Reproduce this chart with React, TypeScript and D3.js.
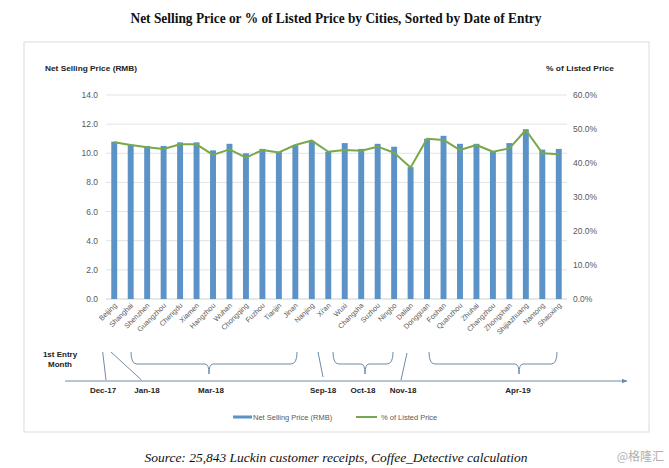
import React from "react";
import * as d3 from "d3";

const cities = ["Beijing","Shanghai","Shenzhen","Guangzhou","Chengdu","Xiamen","Hangzhou","Wuhan","Chongqing","Fuzhou","Tianjin","Jinan","Nanjing","Xi'an","Wuxi","Changsha","Suzhou","Ningbo","Dalian","Dongguan","Foshan","Quanzhou","Zhuhai","Changzhou","Zhongshan","Shijiazhuang","Nantong","Shaoxing"];
const netPrice = [10.8,10.6,10.5,10.5,10.75,10.75,10.2,10.65,10.0,10.3,10.1,10.55,10.85,10.1,10.7,10.3,10.65,10.45,9.05,11.0,11.2,10.65,10.65,10.1,10.7,11.65,10.25,10.3];
const pctListed = [0.461,0.453,0.446,0.441,0.455,0.455,0.424,0.44,0.416,0.438,0.431,0.453,0.466,0.433,0.438,0.436,0.448,0.43,0.387,0.471,0.468,0.438,0.453,0.433,0.443,0.497,0.429,0.426];
const leftTicks = [0,2,4,6,8,10,12,14];
const rightTicks = [0,0.1,0.2,0.3,0.4,0.5,0.6];

const entryLabels = ["Dec-17","Jan-18","Mar-18","Sep-18","Oct-18","Nov-18","Apr-19"];

const BAR = "#5b93c6";
const LINE = "#78a84c";
const TL = "#6f8ba6";

export default function App() {
  const W = 669, H = 468;
  const x = d3.scaleBand<string>().domain(cities).range([106, 567]).padding(0);
  const y = d3.scaleLinear().domain([0, 14]).range([299, 95]);
  const yr = d3.scaleLinear().domain([0, 0.6]).range([299, 95]);
  const bw = x.bandwidth() * 0.36;
  const cx = (c: string) => (x(c) as number) + x.bandwidth() / 2;
  const line = d3.line<number>().x((_, i) => cx(cities[i])).y((d) => yr(d));
  const fmtL = d3.format(".1f");
  const fmtR = d3.format(".1%");

  const bracket = (x1: number, x2: number, xm: number) => {
    const top = 352, bot = 364, tip = 374;
    return `M${x1},${top} Q${x1},${bot} ${x1 + 6},${bot} L${xm - 4},${bot} Q${xm},${bot} ${xm},${tip} Q${xm},${bot} ${xm + 4},${bot} L${x2 - 6},${bot} Q${x2},${bot} ${x2},${top}`;
  };

  return (
    <svg width={W} height={H} style={{ position: "absolute", left: 0, top: 0, background: "#fff" }} fontFamily="'Liberation Sans', Arial, sans-serif">
      <rect x={0} y={0} width={W} height={H} fill="#fff" />
      <text x={336} y={23} textAnchor="middle" fontFamily="'Liberation Serif', 'Times New Roman', serif" fontWeight="bold" fontSize={14} textLength={411} lengthAdjust="spacingAndGlyphs" fill="#111">
        Net Selling Price or % of Listed Price by Cities, Sorted by Date of Entry
      </text>
      <rect x={24} y={42} width={625} height={390} fill="none" stroke="#dcdcdc" strokeWidth={1} />

      <text x={45} y={71} fontSize={8} fontWeight="bold" fill="#222" textLength={92} lengthAdjust="spacingAndGlyphs">Net Selling Price (RMB)</text>
      <text x={546} y={71} fontSize={8} fontWeight="bold" fill="#222" textLength={68} lengthAdjust="spacingAndGlyphs">% of Listed Price</text>

      {leftTicks.map((t) => (
        <g key={t}>
          <line x1={106} x2={567} y1={y(t)} y2={y(t)} stroke={t === 0 ? "#cfcfcf" : "#e3e3e3"} strokeWidth={1} />
          <text x={98} y={y(t) + 3} textAnchor="end" fontSize={8.5} fill="#595959">{fmtL(t)}</text>
        </g>
      ))}
      {rightTicks.map((t) => (
        <text key={t} x={573} y={yr(t) + 3} fontSize={8.5} fill="#595959">{fmtR(t)}</text>
      ))}

      {cities.map((c, i) => (
        <rect key={c} x={cx(c) - bw / 2} y={y(netPrice[i])} width={bw} height={y(0) - y(netPrice[i])} fill={BAR} />
      ))}
      <path d={line(pctListed) || ""} fill="none" stroke={LINE} strokeWidth={2} strokeLinejoin="round" />

      {cities.map((c) => (
        <text key={c} transform={`translate(${cx(c) + 3},${306}) rotate(-45)`} textAnchor="end" fontSize={7.2} fill="#595959">{c}</text>
      ))}

      <text x={60} y={357} textAnchor="middle" fontSize={8} fontWeight="bold" fill="#222">1st Entry</text>
      <text x={60} y={367} textAnchor="middle" fontSize={8} fontWeight="bold" fill="#222">Month</text>
      <defs>
        <marker id="arr" viewBox="0 0 10 10" refX={9} refY={5} markerWidth={6} markerHeight={6} orient="auto">
          <path d="M0,1 L10,5 L0,9 Z" fill={TL} />
        </marker>
      </defs>
      <line x1={65} x2={627} y1={381} y2={381} stroke={TL} strokeWidth={1} markerEnd="url(#arr)" />
      <line x1={102.7} y1={352} x2={106} y2={380} stroke={TL} strokeWidth={1} />
      <line x1={111} y1={352} x2={141.5} y2={380} stroke={TL} strokeWidth={1} />
      <path d={bracket(131, 297, 209)} fill="none" stroke={TL} strokeWidth={1} />
      <line x1={318} y1={352} x2={323} y2={377} stroke={TL} strokeWidth={1} />
      <path d={bracket(333, 393, 365)} fill="none" stroke={TL} strokeWidth={1} />
      <line x1={407} y1={353} x2={401} y2={380} stroke={TL} strokeWidth={1} />
      <path d={bracket(429, 557, 519)} fill="none" stroke={TL} strokeWidth={1} />
      {[103, 147, 211, 323, 363, 403, 518].map((px, i) => (
        <text key={entryLabels[i]} x={px} y={393} textAnchor="middle" fontSize={8} fontWeight="bold" fill="#222">{entryLabels[i]}</text>
      ))}

      <rect x={233} y={415.5} width={19} height={3} fill={BAR} />
      <text x={253} y={420} fontSize={7.5} fill="#595959">Net Selling Price (RMB)</text>
      <line x1={356} x2={377} y1={417} y2={417} stroke={LINE} strokeWidth={2} />
      <text x={381} y={420} fontSize={7.5} fill="#595959">% of Listed Price</text>

      <text x={336} y={462} textAnchor="middle" fontFamily="'Liberation Serif', 'Times New Roman', serif" fontStyle="italic" fontSize={13} textLength={383} lengthAdjust="spacingAndGlyphs" fill="#111">
        Source: 25,843 Luckin customer receipts, Coffee_Detective calculation
      </text>
      <text x={664} y={461} textAnchor="end" fontFamily="'Noto Sans CJK SC', sans-serif" fontSize={12} fill="#b0b0b0">@格隆汇</text>
    </svg>
  );
}
